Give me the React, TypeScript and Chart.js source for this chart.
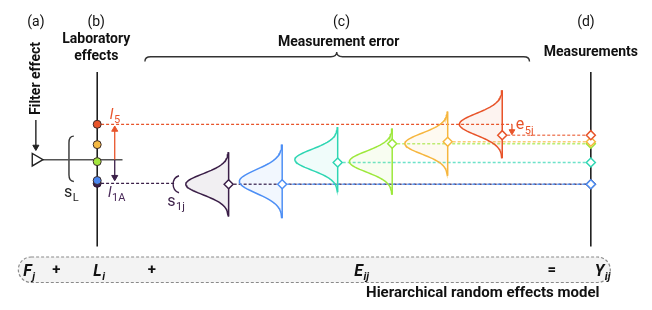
import React, { useEffect, useRef } from 'react';
import { Chart, registerables } from 'chart.js';
Chart.register(...registerables);

const W = 652;
const H = 310;
const FONT = "Roboto, 'Noto Sans', sans-serif";

// (b) laboratory effects: l5 (red), orange, green, blue, l1A (purple)
const labColors = ['#e8542a', '#f5b942', '#a3e63e', '#4a86f0', '#3b1f48'];
const labValues = [122.5, 144, 162, 182, 185];

// (c) measurement error distributions j = 1..6
const errColors = ['#3b1f48', '#4d8ff5', '#2fd6b3', '#9de83c', '#f6b63e', '#e8542a'];
const errPositions = [226, 281, 338, 394, 451, 507];
const errMeans = [186, 183, 160, 162, 143, 122.5];
const errSD = [11, 12.5, 11, 11, 11, 11.5];
const errHalfSpan = [34, 39, 34.5, 35, 34, 36];
const errPeak = 44;
// (d) measured values
const measured = [186, 186, 163, 143, 141, 134];

const labAxisX = 91;
const measAxisX = 598;
const axisTop = 67;
const axisBottom = 252;
const filterY = 160;

function rgba(hex: string, a: number) {
  const n = parseInt(hex.slice(1), 16);
  return `rgba(${(n >> 16) & 255},${(n >> 8) & 255},${n & 255},${a})`;
}

const line = (pts: any[], color: string, width = 1.5, dash: number[] = [], extra: any = {}) => ({
  data: pts, showLine: true, borderColor: color, borderWidth: width, borderDash: dash,
  pointRadius: 0, fill: false, tension: 0, ...extra,
});
const marks = (pts: any[], style: string, radius: number, bg: string, border: string, bw = 1.5, rotation = 0) => ({
  data: pts, showLine: false, pointStyle: style, pointRadius: radius, pointBackgroundColor: bg,
  pointBorderColor: border, pointBorderWidth: bw, pointRotation: rotation, backgroundColor: bg, borderColor: border,
});

function gaussianCurve(j: number) {
  const pts: { x: number; y: number }[] = [];
  const n = 60;
  const m = errMeans[j], s = errSD[j], h = errHalfSpan[j];
  for (let i = 0; i <= n; i++) {
    const y = m - h + (2 * h * i) / n;
    pts.push({ x: errPositions[j] - errPeak * Math.exp(-((y - m) ** 2) / (2 * s * s)), y });
  }
  return pts;
}

function buildDatasets() {
  const layers: any[] = [];
  layers.push(line([{ x: 35, y: filterY }, { x: 117, y: filterY }], '#555', 1.5));
  layers.push(line([{ x: labAxisX, y: axisTop }, { x: labAxisX, y: axisBottom }], '#111', 1.5));
  layers.push(line([{ x: measAxisX, y: axisTop }, { x: measAxisX, y: axisBottom }], '#111', 1.5));
  layers.push(line([{ x: labAxisX + 4, y: labValues[0] }, { x: 517, y: labValues[0] }], labColors[0], 1.2, [3, 2]));
  layers.push(line([{ x: labAxisX + 4, y: labValues[4] }, { x: 170, y: labValues[4] }], labColors[4], 1.2, [3, 2]));
  for (let j = 0; j < errColors.length; j++) {
    layers.push(line([{ x: errPositions[j], y: measured[j] }, { x: measAxisX, y: measured[j] }],
      rgba(errColors[j], j < 2 ? 0.85 : 0.7), 1.5, [3, 2]));
  }
  for (let j = 0; j < errColors.length; j++) {
    layers.push(line(gaussianCurve(j), errColors[j], 1.5, [], { fill: 'shape', backgroundColor: rgba(errColors[j], 0.07) }));
    layers.push(line([{ x: errPositions[j], y: errMeans[j] - errHalfSpan[j] }, { x: errPositions[j], y: errMeans[j] + errHalfSpan[j] }], errColors[j], 1.5));
  }
  const ax = 109;
  layers.push(line([{ x: ax, y: labValues[0] + 4 }, { x: ax, y: filterY }], labColors[0], 1.3));
  layers.push(line([{ x: ax, y: filterY }, { x: ax, y: labValues[3] - 3 }], labColors[4], 1.3));
  layers.push(marks([{ x: ax, y: labValues[0] + 5.5 }], 'triangle', 3.5, labColors[0], labColors[0], 1, 0));
  layers.push(marks([{ x: ax, y: labValues[3] - 3.5 }], 'triangle', 3.5, labColors[4], labColors[4], 1, 180));
  layers.push(line([{ x: 517, y: errMeans[5] }, { x: 517, y: measured[5] - 4 }], errColors[5], 1.3));
  layers.push(marks([{ x: 517, y: measured[5] - 4 }], 'triangle', 3.3, errColors[5], errColors[5], 1, 180));
  layers.push(line([{ x: 28, y: 118 }, { x: 28, y: 146 }], '#222', 1.4));
  layers.push(marks([{ x: 28, y: 146.5 }], 'triangle', 3.5, '#222', '#222', 1, 180));
  layers.push(marks([{ x: 28, y: filterY }], 'triangle', 7.2, '#fff', '#222', 1.4, 90));
  for (let i = labValues.length - 1; i >= 0; i--) {
    layers.push(marks([{ x: labAxisX, y: labValues[i] }], 'circle', 4, labColors[i], i === 4 ? '#2a1533' : '#3a2a2a', 1));
  }
  for (let j = 0; j < errColors.length; j++) {
    layers.push(marks([{ x: errPositions[j], y: measured[j] }], 'rectRot', 4.5, '#fff', errColors[j], 1.5));
  }
  for (let j = 0; j < errColors.length; j++) {
    layers.push(marks([{ x: measAxisX, y: measured[j] }], 'rectRot', 4.5, '#fff', errColors[j], 1.5));
  }
  return layers.reverse();
}

function subText(ctx: CanvasRenderingContext2D, x: number, y: number, main: string, sub: string,
  size: number, color: string, style: string, subSize?: number, subStyle?: string) {
  ctx.fillStyle = color;
  ctx.textAlign = 'left';
  ctx.textBaseline = 'alphabetic';
  ctx.font = `${style} ${size}px ${FONT}`;
  ctx.fillText(main, x, y);
  const w = ctx.measureText(main).width;
  const ss = subSize || Math.round(size * 0.68);
  ctx.font = `${subStyle ?? style} ${ss}px ${FONT}`;
  ctx.fillText(sub, x + w + 0.5, y + size * 0.28);
}

const diagramPlugin = {
  id: 'diagram',
  beforeDatasetsDraw(chart: any) {
    const ctx: CanvasRenderingContext2D = chart.ctx;
    const X = (v: number) => chart.scales.x.getPixelForValue(v);
    const Y = (v: number) => chart.scales.y.getPixelForValue(v);
    ctx.save();
    ctx.beginPath();
    ctx.roundRect(X(10), Y(263), X(618) - X(10), Y(290) - Y(263), 13.5);
    ctx.fillStyle = '#f3f3f3';
    ctx.fill();
    ctx.setLineDash([3, 2]);
    ctx.strokeStyle = '#8a8a8a';
    ctx.lineWidth = 1.2;
    ctx.stroke();
    ctx.setLineDash([]);
    ctx.beginPath();
    ctx.strokeStyle = '#333';
    ctx.lineWidth = 1.4;
    ctx.moveTo(X(140), Y(56));
    ctx.quadraticCurveTo(X(140), Y(51), X(146), Y(51));
    ctx.lineTo(X(331), Y(51));
    ctx.quadraticCurveTo(X(337), Y(51), X(337), Y(46));
    ctx.quadraticCurveTo(X(337), Y(51), X(343), Y(51));
    ctx.lineTo(X(529), Y(51));
    ctx.quadraticCurveTo(X(535), Y(51), X(535), Y(56));
    ctx.stroke();
    ctx.beginPath();
    ctx.moveTo(X(67), Y(135));
    ctx.quadraticCurveTo(X(62), Y(135), X(62), Y(142));
    ctx.lineTo(X(62), Y(176));
    ctx.quadraticCurveTo(X(62), Y(183), X(67), Y(183));
    ctx.stroke();
    ctx.beginPath();
    ctx.strokeStyle = '#3b1f48';
    ctx.moveTo(X(175), Y(177));
    ctx.quadraticCurveTo(X(169), Y(179), X(169), Y(186));
    ctx.quadraticCurveTo(X(169), Y(193), X(175), Y(195));
    ctx.stroke();
    ctx.restore();
  },
  afterDatasetsDraw(chart: any) {
    const ctx: CanvasRenderingContext2D = chart.ctx;
    const X = (v: number) => chart.scales.x.getPixelForValue(v);
    const Y = (v: number) => chart.scales.y.getPixelForValue(v);
    ctx.save();
    ctx.fillStyle = '#111';
    ctx.textBaseline = 'middle';
    ctx.textAlign = 'center';
    ctx.font = `14px ${FONT}`;
    ctx.fillText('(a)', X(28), Y(15));
    ctx.fillText('(b)', X(90), Y(15));
    ctx.fillText('(c)', X(342), Y(15));
    ctx.fillText('(d)', X(593), Y(15));
    ctx.font = `bold 14px ${FONT}`;
    ctx.fillText('Laboratory', X(90), Y(33));
    ctx.fillText('effects', X(90), Y(51));
    ctx.fillText('Measurement error', X(339), Y(36));
    ctx.fillText('Measurements', X(598), Y(46));
    ctx.font = `bold 15px ${FONT}`;
    ctx.fillText('Hierarchical random effects model', X(487), Y(301));
    ctx.save();
    ctx.translate(X(29), Y(74));
    ctx.rotate(-Math.PI / 2);
    ctx.font = `bold 14px ${FONT}`;
    ctx.fillText('Filter effect', 0, 0);
    ctx.restore();
    subText(ctx, X(104), Y(117), 'l', '5', 15, labColors[0], 'italic', 11, 'normal');
    subText(ctx, X(102), Y(199), 'l', '1A', 15, '#4a2a5a', 'italic', 11, 'normal');
    subText(ctx, X(57), Y(199), 's', 'L', 16, '#222', 'normal', 11);
    subText(ctx, X(163), Y(209), 's', '1j', 16, '#3b1f48', 'normal', 11);
    subText(ctx, X(521), Y(128), 'e', '5j', 16, errColors[5], 'normal', 11);
    const ey = Y(283);
    subText(ctx, X(15), ey, 'F', 'j', 16, '#111', 'italic bold', 11);
    subText(ctx, X(87), ey, 'L', 'i', 16, '#111', 'italic bold', 11);
    subText(ctx, X(355), ey, 'E', 'ij', 16, '#111', 'italic bold', 11);
    subText(ctx, X(602), ey, 'Y', 'ij', 16, '#111', 'italic bold', 11);
    ctx.textAlign = 'center';
    ctx.textBaseline = 'middle';
    ctx.font = `bold 15px ${FONT}`;
    ctx.fillText('+', X(49), Y(277));
    ctx.fillText('+', X(147), Y(277));
    ctx.fillText('=', X(558), Y(277));
    ctx.restore();
  },
};

export default function App() {
  const ref = useRef<HTMLCanvasElement>(null);
  useEffect(() => {
    if (!ref.current) return;
    const chart = new Chart(ref.current, {
      type: 'scatter',
      data: { datasets: buildDatasets() as any },
      options: {
        animation: false,
        responsive: false,
        events: [],
        layout: { padding: 0 },
        scales: {
          x: { type: 'linear', min: 0, max: W, display: false },
          y: { type: 'linear', min: 0, max: H, reverse: true, display: false },
        },
        plugins: { legend: { display: false }, tooltip: { enabled: false } },
      },
      plugins: [diagramPlugin as any],
    });
    return () => chart.destroy();
  }, []);
  return (
    <div style={{ position: 'absolute', left: 0, top: 0, width: W, height: H, background: '#fff' }}>
      <canvas ref={ref} width={W} height={H} style={{ display: 'block' }} />
    </div>
  );
}
